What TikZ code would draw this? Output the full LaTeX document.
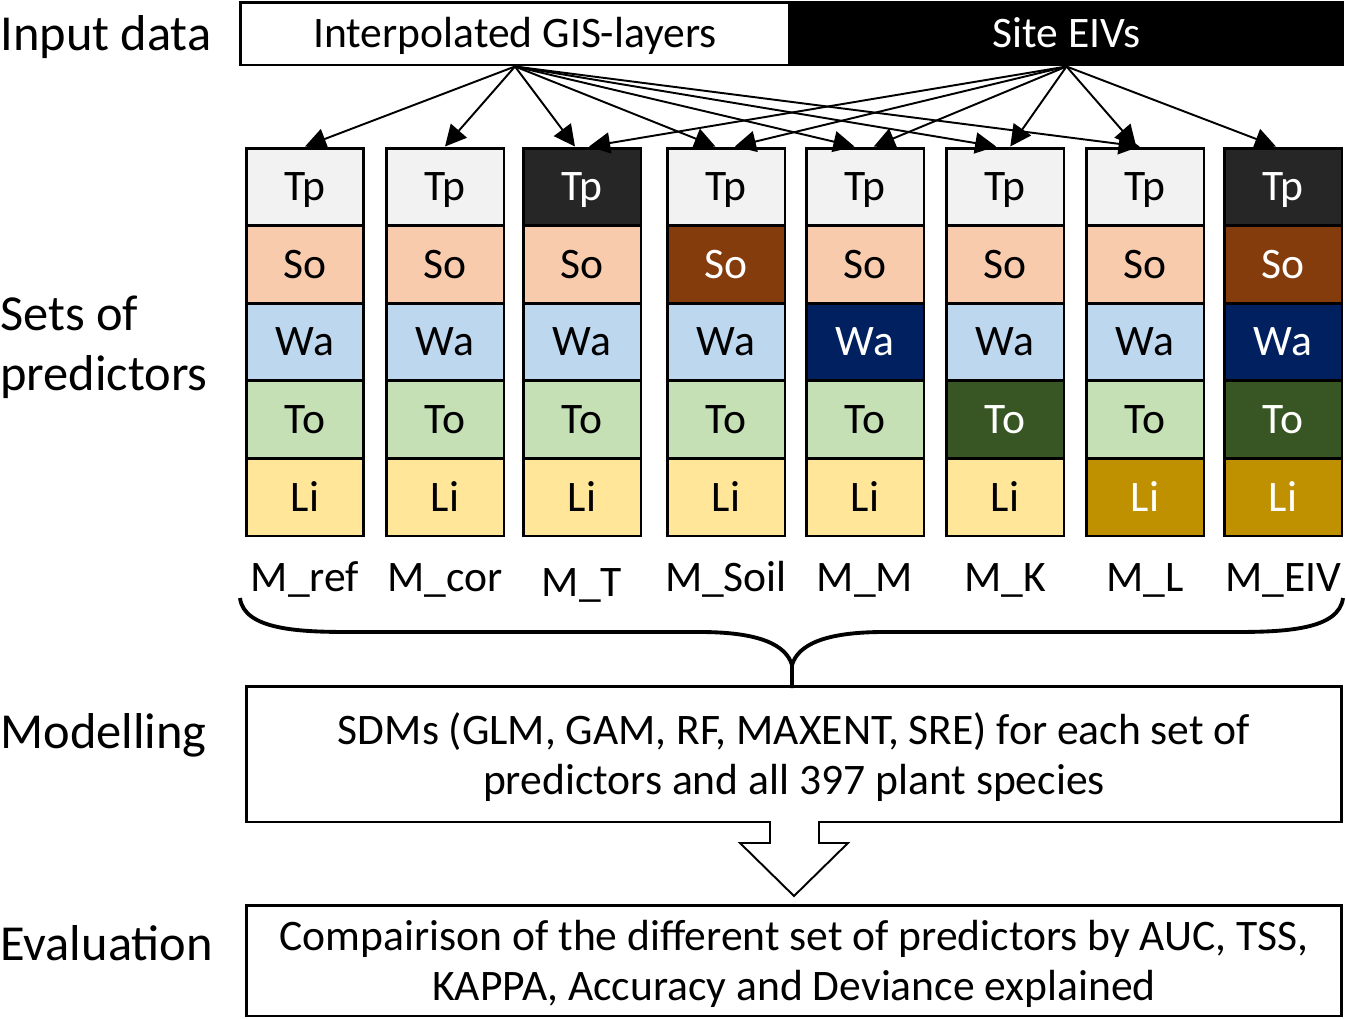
\documentclass[tikz,border=0pt]{standalone}
\usepackage{fontspec}
\setmainfont{Carlito}
\usetikzlibrary{arrows.meta}
\definecolor{Tp0}{HTML}{F2F2F2}
\definecolor{Tp1}{HTML}{262626}
\definecolor{So0}{HTML}{F8CBAD}
\definecolor{So1}{HTML}{843C0C}
\definecolor{Wa0}{HTML}{BDD7EE}
\definecolor{Wa1}{HTML}{002060}
\definecolor{To0}{HTML}{C5E0B4}
\definecolor{To1}{HTML}{375623}
\definecolor{Li0}{HTML}{FFE699}
\definecolor{Li1}{HTML}{BF9000}
\tikzset{
  cell/.style={draw, line width=1.7pt, minimum width=2.36cm, minimum height=1.552cm,
    inner sep=0pt, text height=15.9pt, text depth=0pt, font=\fontsize{24.8}{29}\selectfont},
  cell0/.style={text=black},
  cell1/.style={text=white},
  feed/.style={-{Triangle[length=12pt,width=12pt]}, line width=1.1pt},
  side/.style={anchor=base west, inner sep=0pt, font=\fontsize{28.7}{34}\selectfont},
  bigbox/.style={draw, line width=1.7pt, inner sep=0pt, align=center, text depth=0pt,
    font=\fontsize{24.8}{28.4}\selectfont},
}
\begin{document}
\begin{tikzpicture}[x=0.02cm, y=-0.02cm]
\useasboundingbox (0,0) rectangle (1346,1018);
% input data
\node [bigbox, fill=white, minimum width=11cm, minimum height=1.26cm, text height=15.9pt] (gis) at (515,33.5) {Interpolated GIS-layers};
\node [bigbox, fill=black, text=white, minimum width=11.06cm, minimum height=1.26cm, text height=15.9pt] (eiv) at (1066.5,33.5) {Site EIVs};
% sets of predictors
\foreach \x/\d/\lab/\ly [count=\i] in {305/0/M\_ref/591, 445/0/M\_cor/591, 582/1/M\_T/596,
    726/2/M\_Soil/591, 865/3/M\_M/591, 1005/4/M\_K/591, 1145/5/M\_L/591, 1283/6/M\_EIV/591}{
  \foreach \r/\y [count=\j] in {Tp/186.8, So/264.4, Wa/342, To/419.6, Li/497.2}{
    \pgfmathtruncatemacro\dk{(\d==\j)||(\d==6)}
    \node [cell, cell\dk, fill=\r\dk] (c\i-\j) at (\x,\y) {\r};
  }
  \node [anchor=base, font=\fontsize{24.8}{29}\selectfont] (m\i) at (\x,\ly) {\lab};
}
\foreach \i/\s in {1/0, 2/0, 3/-4, 4/-6, 5/-6, 6/-5, 7/-3}
  \draw [feed] (gis.south) -- ([xshift=\s pt]c\i-1.north);
\foreach \i/\s in {3/4, 4/5, 5/5, 6/3, 7/-5, 8/-4}
  \draw [feed] (eiv.south) -- ([xshift=\s pt]c\i-1.north);
% brace
\draw [line width=2.2pt] (240,598) .. controls (244,630) and (300,632) .. (350,632) -- (700,632)
  .. controls (760,632) and (786,645) .. (792,665) -- (792,688);
\draw [line width=2.2pt] (1343,598) .. controls (1339,630) and (1284,632) .. (1234,632) -- (884,632)
  .. controls (824,632) and (798,645) .. (792,665);
% modelling and evaluation
\node [bigbox, minimum width=21.92cm, minimum height=2.72cm] (model) at (794,754)
  {SDMs (GLM, GAM, RF, MAXENT, SRE) for each set of\\predictors and all 397 plant species};
\node [bigbox, minimum width=21.92cm, minimum height=2.22cm] (eval) at (794,960.5)
  {Compairison of the different set of predictors by AUC, TSS,\\KAPPA, Accuracy and Deviance explained};
\fill [white] (771,818) rectangle (818,827);
\draw [line width=1.1pt, fill=white] (770,822) -- (770,843) -- (740,843) -- (794,896)
  -- (848,843) -- (819,843) -- (819,822);
% row labels
\node [side] (l1) at (0,50) {Input data};
\node [side, align=left] (l2) at (0,390) {Sets of\\predictors};
\node [side] (l3) at (0,748) {Modelling};
\node [side] (l4) at (0,960) {Evaluation};
\end{tikzpicture}
\end{document}
